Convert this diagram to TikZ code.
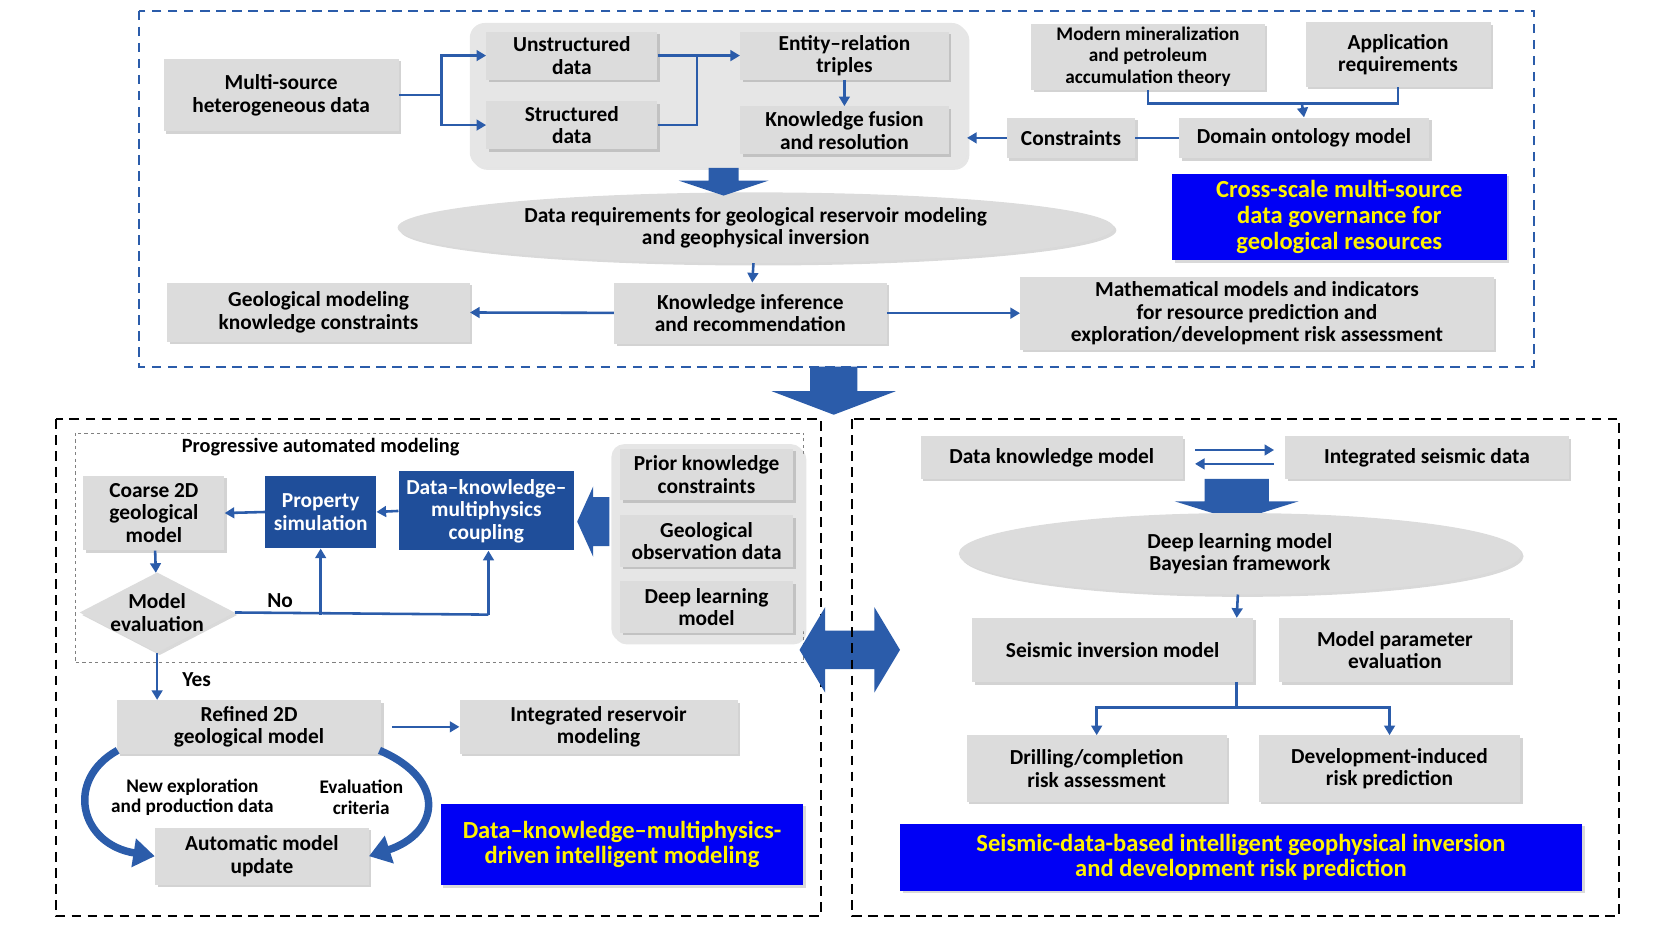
\documentclass[tikz,border=0pt]{standalone}
\usepackage{fontspec}
\setmainfont{Carlito}
\usetikzlibrary{shapes,shapes.geometric,arrows.meta,shadows,positioning,calc}
\definecolor{bgray}{HTML}{DCDCDC}
\definecolor{lblue}{HTML}{2B5CAA}
\definecolor{pblue}{HTML}{0000F5}
\definecolor{cblue}{HTML}{1F4E9A}
\tikzstyle{box}=[fill=bgray, drop shadow={opacity=.35}, align=center, font=\fontsize{20}{21}\selectfont\bfseries, inner sep=2pt]
\tikzstyle{bbox}=[fill=cblue, align=center, font=\fontsize{20}{21}\selectfont\bfseries, text=white, inner sep=2pt]
\tikzstyle{title}=[fill=pblue, align=center, font=\fontsize{23}{24}\selectfont\bfseries, text=yellow, drop shadow={opacity=.3}]
\tikzstyle{ln}=[lblue, line width=2.4pt]
\tikzstyle{ar}=[ln, -{Triangle[length=9pt,width=10pt]}]
\tikzstyle{blk}=[fill=lblue, draw=none]
% block arrow pointing down: x, top, bottom, half shaft, half head, head length
\newcommand{\downblk}[6]{\fill[blk] (#1-#4,#2) -- (#1+#4,#2) -- (#1+#4,#3-#6) -- (#1+#5,#3-#6) -- (#1,#3) -- (#1-#5,#3-#6) -- (#1-#4,#3-#6) -- cycle;}
\begin{document}
\begin{tikzpicture}[x=1pt,y=-1pt]
    \useasboundingbox (0,0) rectangle (1568,878);
    % top part
    \draw[lblue, line width=2pt, dash pattern=on 9pt off 6pt] (130,10) rectangle (1435,343);
    \node[fill=bgray!70, rounded corners=14pt, minimum width=465, minimum height=135, drop shadow={opacity=.2}] (pool) at (672,89) {};
    \node[box, minimum width=220, minimum height=68] (ms) at (263,89) {Multi-source\\heterogeneous data};
    \node[box, minimum width=160, minimum height=45] (un) at (535,52) {Unstructured\\data};
    \node[box, minimum width=160, minimum height=45] (st) at (535,117) {Structured\\data};
    \node[box, minimum width=195, minimum height=45] (er) at (790,52) {Entity--relation\\triples};
    \node[box, minimum width=195, minimum height=45] (kf) at (790,122) {Knowledge fusion\\and resolution};
    \node[box, minimum width=218, minimum height=62] (mm) at (1074,53) {\fontsize{18}{18}\selectfont Modern mineralization\\[-1pt]\fontsize{18}{18}\selectfont and petroleum\\[-1pt]\fontsize{18}{18}\selectfont accumulation theory};
    \node[box, minimum width=173, minimum height=60] (ap) at (1308,51) {Application\\requirements};
    \node[box, minimum width=120, minimum height=38] (cs) at (1002,129) {Constraints};
    \node[box, minimum width=234, minimum height=38] (dom) at (1220,129) {Domain ontology model};
    \node[title, minimum width=313, minimum height=81] (t1) at (1253,203) {Cross-scale multi-source\\data governance for\\geological resources};
    \node[ellipse, fill=bgray, drop shadow={opacity=.3}, minimum width=670, minimum height=66, inner sep=0, align=center, font=\fontsize{20}{21}\selectfont\bfseries] (req) at (707,213) {Data requirements for geological reservoir modeling\\and geophysical inversion};
    \node[box, minimum width=255, minimum height=57] (inf) at (702,293) {Knowledge inference\\and recommendation};
    \node[box, minimum width=283, minimum height=55] (gmk) at (298,292) {Geological modeling\\knowledge constraints};
    \node[box, minimum width=443, minimum height=68] (mat) at (1176,293) {Mathematical models and indicators\\for resource prediction and\\exploration/development risk assessment};

    \coordinate (j1) at (413,89);
    \draw[ln] (ms.east) -- (j1);
    \draw[ar] (j1) |- (un.west);
    \draw[ar] (j1) |- (st.west);
    \draw[ar] (un.east) -- (er.west |- un.east);
    \draw[ln] (st.east) -| (652,52);
    \draw[ar] (er) -- (kf);
    \draw[ar] (cs) -- (pool.east |- cs);
    \draw[ln] (cs) -- (dom);
    \draw[ln] (mm.south) |- (1308,97) -- (ap.south);
    \draw[ar] (1218,97) -- (dom.north);
    \draw[ar] (req) -- (inf);
    \draw[ar] (inf) -- (gmk);
    \draw[ar] (inf) -- (mat);
    \downblk{677}{157}{183}{14}{42}{14}
    \downblk{780}{343}{388}{22}{58}{22}

    % bottom left
    \draw[black, line width=2pt, dash pattern=on 9pt off 6pt] (52,392) rectangle (768,857);
    \draw[gray, dashed, line width=.6pt] (70,405) rectangle (752,620);
    \node[font=\fontsize{19}{20}\selectfont\bfseries] (pam) at (300,418) {Progressive automated modeling};
    \node[fill=bgray!70, rounded corners=12pt, minimum width=180, minimum height=185, drop shadow={opacity=.2}] (kpool) at (662,508) {};
    \node[box, minimum width=162, minimum height=48] (pk) at (661,444) {Prior knowledge\\constraints};
    \node[box, minimum width=162, minimum height=48] (go) at (661,506) {Geological\\observation data};
    \node[box, minimum width=162, minimum height=48] (dl) at (661,568) {Deep learning\\model};
    \node[box, minimum width=132, minimum height=70] (cg) at (144,480) {Coarse 2D\\geological\\model};
    \node[bbox, minimum width=104, minimum height=68] (ps) at (300,479) {Property\\simulation};
    \node[bbox, minimum width=164, minimum height=74] (dk) at (455,478) {Data--knowledge--\\multiphysics\\coupling};
    \node[diamond, fill=bgray, drop shadow={opacity=.3}, minimum width=145, minimum height=75, inner sep=-8pt, aspect=2, align=center, font=\fontsize{20}{21}\selectfont\bfseries] (me) at (147,573) {Model\\evaluation};
    \fill[blk] (570,465) -- (555,465) -- (555,455) -- (540,488) -- (555,521) -- (555,511) -- (570,511) -- cycle;
    \node[box, minimum width=247, minimum height=50] (rf) at (233,680) {Refined 2D\\geological model};
    \node[box, minimum width=260, minimum height=50] (ir) at (560,680) {Integrated reservoir\\modeling};
    \node[box, minimum width=200, minimum height=53] (au) at (245,801) {Automatic model\\update};
    \node[title, minimum width=339, minimum height=76] (t2) at (582,790) {Data--knowledge--multiphysics-\\driven intelligent modeling};
    \node[align=center, font=\fontsize{18}{19}\selectfont\bfseries] (ne) at (180,746) {New exploration\\and production data};
    \node[align=center, font=\fontsize{18}{19}\selectfont\bfseries] (ec) at (338,746) {Evaluation\\criteria};

    \draw[ar] (dk.west) -- (ps.east);
    \draw[ar] (ps.west) -- (cg.east);
    \draw[ar] (cg) -- (me);
    \draw[ln] (me.east) -- (457,575);
    \draw[ar] (457,575) -- (dk.south -| 457,0);
    \draw[ar] (300,575) -- (ps.south);
    \node[font=\fontsize{20}{21}\selectfont\bfseries] (no) at (262,562) {No};
    \draw[ar] (me.south) -- (rf.north -| me.south);
    \node[font=\fontsize{20}{21}\selectfont\bfseries] (yes) at (184,636) {Yes};
    \draw[ar] (rf.east) ++(10,0) -- (ir.west);
    \draw[lblue, line width=7pt, -{Triangle[length=20pt,width=26pt]}] (110,702) .. controls (60,730) and (75,790) .. (au.west);
    \draw[lblue, line width=7pt, -{Triangle[length=20pt,width=26pt]}] (355,702) .. controls (420,730) and (410,780) .. (au.east);

    % double arrow
    \fill[blk] (748,608) -- (772,568) -- (772,590) -- (818,590) -- (818,568) -- (842,608) -- (818,648) -- (818,626) -- (772,626) -- (772,648) -- cycle;

    % bottom right
    \draw[black, line width=2pt, dash pattern=on 9pt off 6pt] (797,392) rectangle (1515,857);
    \node[box, minimum width=245, minimum height=40] (dkm) at (984,428) {Data knowledge model};
    \node[box, minimum width=265, minimum height=40] (isd) at (1335,428) {Integrated seismic data};
    \draw[ar] (1118,421) -- (1192,421);
    \draw[ar] (1192,434) -- (1118,434);
    \downblk{1157}{448}{487}{30}{58}{18}
    \node[ellipse, fill=bgray, drop shadow={opacity=.3}, minimum width=526, minimum height=76, inner sep=0, align=center, font=\fontsize{20}{21}\selectfont\bfseries] (dlb) at (1160,518) {Deep learning model\\Bayesian framework};
    \node[box, minimum width=263, minimum height=60] (si) at (1041,608) {Seismic inversion model};
    \node[box, minimum width=216, minimum height=60] (mp) at (1305,608) {Model parameter\\evaluation};
    \node[box, minimum width=243, minimum height=62] (dr) at (1026,719) {Drilling/completion\\risk assessment};
    \node[box, minimum width=245, minimum height=62] (dv) at (1300,719) {Development-induced\\risk prediction};
    \node[title, minimum width=638, minimum height=63] (t3) at (1161,802) {Seismic-data-based intelligent geophysical inversion\\and development risk prediction};
    \draw[ar] (dlb) -- (1157,578);
    \draw[ln] (1157,638) -- (1157,662);
    \draw[ar] (1157,662) -| (dr.north);
    \draw[ar] (1157,662) -| (dv.north);
\end{tikzpicture}
\end{document}
